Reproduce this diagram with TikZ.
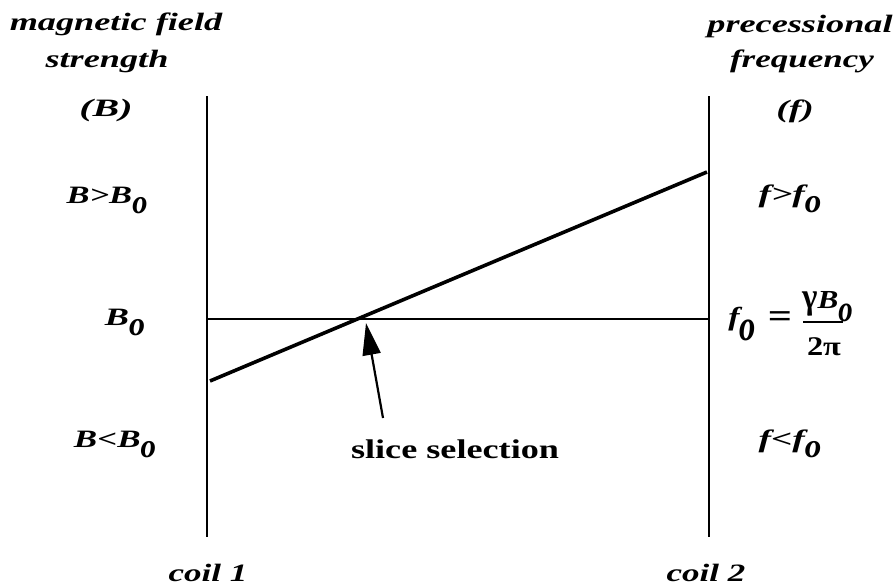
\documentclass[tikz,border=0pt]{standalone}
\usepackage{fontspec}
\setmainfont{Liberation Serif}
\usetikzlibrary{arrows.meta}
% tall, lowered subscript o
\newcommand{\sbo}{\raisebox{-10pt}{\scalebox{1}[1.55]{\fontsize{22}{22}\selectfont o}}}
\newcommand{\sbobig}{\raisebox{-15pt}{\scalebox{1}[1.75]{\fontsize{25}{25}\selectfont o}}}
\newcommand{\sbonum}{\raisebox{-13pt}{\scalebox{1}[1.55]{\fontsize{24}{24}\selectfont o}}}
\newcommand{\wide}[2][1.45]{\scalebox{#1}[1]{#2}}
\newcommand{\sz}[1]{\fontsize{#1}{#1}\selectfont}
\begin{document}
\begin{tikzpicture}[x=1pt,y=-1pt,
  lab/.style={font=\bfseries\itshape, inner sep=0pt, anchor=base},
  rom/.style={font=\bfseries, inner sep=0pt, anchor=base},
  axis/.style={line width=1.6pt},
  thin/.style={line width=1.2pt},
  grad/.style={line width=3.6pt},
  bar/.style={line width=1.6pt},
  ptr/.style={line width=2.2pt, -{Triangle[length=32pt,width=18pt]}}]
\useasboundingbox (0,0) rectangle (896,586);
% coordinates
\coordinate (L1) at (207,96);
\coordinate (L2) at (207,537);
\coordinate (R1) at (709,96);
\coordinate (R2) at (709,537);
\coordinate (HL) at (207,319);
\coordinate (HR) at (709,319);
\coordinate (G1) at (210,381);
\coordinate (G2) at (707,172);
\coordinate (A1) at (383,418);
\coordinate (A2) at (366,323);
\coordinate (FB1) at (803,322);
\coordinate (FB2) at (843,322);
% lines
\draw[axis] (L1) -- (L2);
\draw[axis] (R1) -- (R2);
\draw[thin] (HL) -- (HR);
\draw[grad] (G1) -- (G2);
\draw[ptr] (A1) -- (A2);
% left labels
\node[lab] (mf) at (116,31) {\sz{25}\wide{magnetic field}};
\node[lab] (st) at (107,67) {\sz{25}\wide{strength}};
\node[lab] (bb) at (106,116) {\sz{25}\wide[1.6]{(B)}};
\node[lab] (bg) at (107,203) {\sz{25}\wide[1.38]{B>B\sbo}};
\node[lab] (b0) at (125,325) {\sz{25}\wide{B\sbo}};
\node[lab] (bl) at (115,447) {\sz{25}\wide[1.4]{B<B\sbo}};
% right labels
\node[lab] (pr) at (800,33) {\sz{25}\wide[1.45]{precessional}};
\node[lab] (fr) at (802,67) {\sz{25}\wide[1.4]{frequency}};
\node[lab] (ff) at (795,117) {\sz{25}\wide[1.5]{(f)}};
\node[lab] (fg) at (790,202) {\sz{25}\wide[1.5]{f>f\sbo}};
\node[lab] (f0) at (742,325) {\sz{26}\wide[1.3]{f\sbobig}};
\node[rom] (eq) at (780,327) {\sz{34}\wide[1.25]{=}};
\node[lab,anchor=base west] (num) at (802,308) {\sz{26}\wide[1.2]{\upshape\scalebox{1.05}[1.4]{γ}\itshape B\sbonum}};
\node[rom] (den) at (824,355) {\sz{27}\wide[1.2]{2π}};
\draw[bar] (FB1) -- (FB2);
\node[lab] (fl) at (790,447) {\sz{25}\wide[1.5]{f<f\sbo}};
% bottom
\node[rom] (sl) at (455,458) {\sz{27}\wide[1.34]{slice selection}};
\node[lab] (c1) at (208,581) {\sz{25}\wide[1.4]{coil 1}};
\node[lab] (c2) at (706,581) {\sz{25}\wide[1.4]{coil 2}};
\end{tikzpicture}
\end{document}
